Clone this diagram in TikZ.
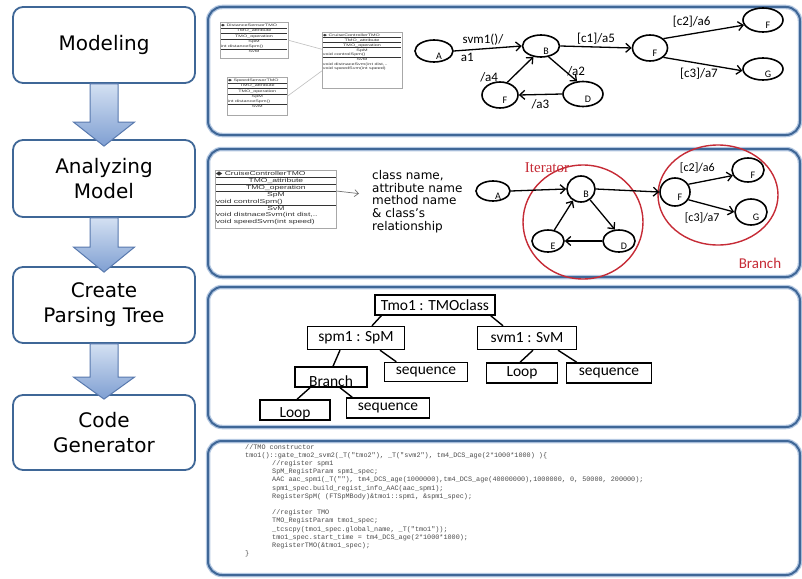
\documentclass[tikz,border=0pt]{standalone}
\usepackage{fontspec}
\usepackage{graphicx}
\setmainfont{DejaVu Sans}
\newfontfamily\calfont{Carlito}
\newfontfamily\arialfont{Liberation Sans}
\newfontfamily\serffont{Liberation Serif}
\setmonofont{Liberation Mono}
\usetikzlibrary{shapes.geometric,arrows.meta}
\definecolor{panelblue}{HTML}{3F6797}
\definecolor{glowblue}{HTML}{B4C8E2}
\definecolor{arrowtop}{HTML}{D3E0F2}
\definecolor{arrowbot}{HTML}{7F9FD2}
\definecolor{arrowline}{HTML}{5879AE}
\definecolor{ringred}{HTML}{C62B36}
\definecolor{umlgray}{HTML}{A8A8A8}
\tikzset{
  stage/.style={draw=panelblue, line width=1.8pt, rounded corners=10pt, fill=white,
    minimum width=182pt, align=center, font=\fontsize{20}{25}\selectfont},
  panel/.style={draw=panelblue, line width=2pt, rounded corners=14pt,
    preaction={draw=glowblue, line width=4.5pt}},
  flow/.style={draw=arrowline, line width=1pt, top color=arrowtop, bottom color=arrowbot},
  state/.style={ellipse, draw, line width=1.6pt, inner sep=0pt},
  tag/.style={font=\calfont\fontsize{10}{10}\selectfont, xshift=5pt, yshift=-5pt},
  edge/.style={-{Straight Barb[length=5pt,width=9pt]}, line width=1.3pt},
  elbl/.style={font=\calfont\fontsize{13}{13}\selectfont, inner sep=1pt},
  elblb/.style={font=\calfont\fontsize{12}{12}\selectfont, inner sep=1pt},
  ring/.style={ellipse, draw=ringred, line width=1.4pt, inner sep=0pt},
  tbox/.style={draw, line width=1.4pt, fill=white, inner sep=0pt,
    font=\calfont\fontsize{15.5}{15.5}\selectfont},
  uml/.style={draw=umlgray, line width=0.5pt, inner sep=0.6pt, fill=white,
    anchor=north west, font=\arialfont, text=black!80},
  umlline/.style={draw=black!25, line width=0.6pt},
}

\begin{document}
\begin{tikzpicture}[x=1pt,y=-1pt]
  \fill[white] (0,0) rectangle (802,578);
  \useasboundingbox (0,0) rectangle (802,578);

  % left column: the four steps
  \node[stage, minimum height=76pt] (model) at (104,45) {Modeling};
  \node[stage, minimum height=77pt] (analyze) at (104,178.5) {Analyzing\\Model};
  \node[stage, minimum height=76pt] (parse) at (104,305) {Create\\Parsing Tree};
  \node[stage, minimum height=75pt] (codegen) at (104,432.5) {Code\\Generator};
  \draw[flow] ([xshift=-14pt]model.south) -- ([xshift=-14pt,yshift=17pt]analyze.north)
    -- ([xshift=-30.5pt,yshift=17pt]analyze.north) -- ([yshift=-7pt]analyze.north)
    -- ([xshift=30.5pt,yshift=17pt]analyze.north) -- ([xshift=14pt,yshift=17pt]analyze.north)
    -- ([xshift=14pt]model.south) -- cycle;
  \draw[flow] ([xshift=-14pt]analyze.south) -- ([xshift=-14pt,yshift=19pt]parse.north)
    -- ([xshift=-30.5pt,yshift=19pt]parse.north) -- ([yshift=-6pt]parse.north)
    -- ([xshift=30.5pt,yshift=19pt]parse.north) -- ([xshift=14pt,yshift=19pt]parse.north)
    -- ([xshift=14pt]analyze.south) -- cycle;
  \draw[flow] ([xshift=-14pt]parse.south) -- ([xshift=-14pt,yshift=17pt]codegen.north)
    -- ([xshift=-30.5pt,yshift=17pt]codegen.north) -- ([yshift=-5pt]codegen.north)
    -- ([xshift=30.5pt,yshift=17pt]codegen.north) -- ([xshift=14pt,yshift=17pt]codegen.north)
    -- ([xshift=14pt]parse.south) -- cycle;

  % right column: panels
  \draw[panel] (208,7) rectangle (800,135);
  \draw[panel] (208,149) rectangle (800,277);
  \draw[panel] (208,287) rectangle (800,427);
  \draw[panel] (208,441) rectangle (800,575);

  % modeling: class boxes
  \node[uml] (dss) at (220,22) {\scalebox{1.6}[1]{\fontsize{3.4}{5}\selectfont\begin{tabular}{@{}p{41.5pt}@{}}
    {\rmfamily ◆} DistanceSensorTMO\\\hline
    \multicolumn{1}{@{}c@{}}{TMO\_attribute}\\\hline
    \multicolumn{1}{@{}c@{}}{TMO\_operation}\\\hline
    \multicolumn{1}{@{}c@{}}{SpM}\\
    int distanceSpm()\\\hline
    \multicolumn{1}{@{}c@{}}{SvM}\\[3pt]
  \end{tabular}}};
  \node[uml] (sss) at (227,77) {\scalebox{1.6}[1]{\fontsize{3.4}{5}\selectfont\begin{tabular}{@{}p{36.7pt}@{}}
    {\rmfamily ◆} SpeedSensorTMO\\\hline
    \multicolumn{1}{@{}c@{}}{TMO\_attribute}\\\hline
    \multicolumn{1}{@{}c@{}}{TMO\_operation}\\\hline
    \multicolumn{1}{@{}c@{}}{SpM}\\
    int distanceSpm()\\\hline
    \multicolumn{1}{@{}c@{}}{SvM}\\[5pt]
  \end{tabular}}};
  \node[uml] (cct) at (322,32) {\scalebox{1.6}[1]{\fontsize{3.4}{4.6}\selectfont\begin{tabular}{@{}p{49pt}@{}}
    {\rmfamily ◆} CruiseControllerTMO\\\hline
    \multicolumn{1}{@{}c@{}}{TMO\_attribute}\\\hline
    \multicolumn{1}{@{}c@{}}{TMO\_operation}\\\hline
    \multicolumn{1}{@{}c@{}}{SpM}\\
    void controlSpm()\\\hline
    \multicolumn{1}{@{}c@{}}{SvM}\\
    void distnaceSvm(int dist,..\\
    void speedSvm(int speed)\\[16pt]
  \end{tabular}}};
  \draw[umlline] (dss.east) -- (cct.165);
  \draw[umlline] (sss.east) -- (cct.195);

  % modeling: state machine
  \node[state, minimum width=38pt, minimum height=22pt, label={[tag]center:A}] (mA) at (434,51) {};
  \node[state, minimum width=37pt, minimum height=22pt, label={[tag]center:B}] (mB) at (541,46) {};
  \node[state, minimum width=35pt, minimum height=26pt, label={[tag]center:F}] (mF) at (650,48) {};
  \node[state, minimum width=40pt, minimum height=24pt, label={[tag]center:F}] (mF2) at (763,20) {};
  \node[state, minimum width=40pt, minimum height=22pt, label={[tag]center:G}] (mG) at (763,69) {};
  \node[state, minimum width=36pt, minimum height=26pt, label={[tag]center:F}] (mE) at (500,95) {};
  \node[state, minimum width=40pt, minimum height=25pt, label={[tag]center:D}] (mD) at (583,94) {};
  \draw[edge] (mA.east) -- (mB.west) node[elbl, pos=.43, above=2pt] {svm1()/}
    node[elbl, pos=.2, below=1pt] {a1};
  \draw[edge] (mB.east) -- (mF.west) node[elbl, midway, above=1pt] {[c1]/a5};
  \draw[edge] (mF.35) -- (mF2.195) node[elbl, pos=.35, above=5pt] {[c2]/a6};
  \draw[edge] (mF.-35) -- (mG.185) node[elbl, pos=.45, below=3pt] {[c3]/a7};
  \draw[edge] (mB.-55) -- (mD.115) node[elbl, pos=.6, right=0pt] {/a2};
  \draw[edge] (mD.west) -- (mE.east) node[elbl, midway, below=3pt] {/a3};
  \draw[edge] (mE.60) -- (mB.235) node[elbl, pos=.2, left=13pt] {/a4};

  % analyzing: class box and notes
  \node[uml] (ccbig) at (215,170) {\scalebox{1.5}[1]{\fontsize{5.7}{6.6}\selectfont\begin{tabular}{@{}p{80pt}@{}}
    {\rmfamily ◆} CruiseControllerTMO\\\hline
    \multicolumn{1}{@{}c@{}}{TMO\_attribute}\\\hline
    \multicolumn{1}{@{}c@{}}{TMO\_operation}\\\hline
    \multicolumn{1}{@{}c@{}}{SpM}\\
    void controlSpm()\\\hline
    \multicolumn{1}{@{}c@{}}{SvM}\\
    void distnaceSvm(int dist,..\\
    void speedSvm(int speed)\\[2pt]
  \end{tabular}}};
  \node[anchor=north west, align=left, inner sep=0pt, font=\fontsize{12}{12.8}\selectfont]
    (notes) at (372,170) {class name,\\attribute name\\method name\\\& class's\\relationship};
  \draw[-{Straight Barb[length=4pt,width=7pt]}, black!55, line width=0.7pt]
    ([yshift=8pt]ccbig.east) -- ([xshift=-13pt,yshift=8pt]notes.west);

  % analyzing: iterator and branch
  \node[ring, minimum width=120pt, minimum height=114pt] (itring) at (583,222) {};
  \node[ring, minimum width=120pt, minimum height=100pt] (brring) at (718,195) {};
  \node[font=\serffont\fontsize{15}{15}\selectfont, text=ringred] (iter) at (547,168) {Iterator};
  \node[font=\calfont\fontsize{15}{15}\selectfont, text=ringred] (branch) at (760,263) {Branch};
  \node[state, fill=white, minimum width=34pt, minimum height=20pt, label={[tag]center:A}] (aA) at (493,191) {};
  \node[state, fill=white, minimum width=28pt, minimum height=26pt, label={[tag]center:B}] (aB) at (581,189) {};
  \node[state, fill=white, minimum width=30pt, minimum height=28pt, label={[tag]center:F}] (aF) at (675,192) {};
  \node[state, fill=white, minimum width=32pt, minimum height=24pt, label={[tag]center:F}] (aF2) at (748,170) {};
  \node[state, fill=white, minimum width=32pt, minimum height=26pt, label={[tag]center:G}] (aG) at (751,212) {};
  \node[state, fill=white, minimum width=32pt, minimum height=22pt, label={[tag]center:E}] (aE) at (548,241) {};
  \node[state, fill=white, minimum width=32pt, minimum height=22pt, label={[tag]center:D}] (aD) at (619,241) {};
  \draw[edge] (aA.east) -- (aB.west);
  \draw[edge] (aB.east) -- (aF.west);
  \draw[edge] (aF.30) -- (aF2.200) node[elblb, pos=.2, above=8pt] {[c2]/a6};
  \draw[edge] (aF.-30) -- (aG.180) node[elblb, pos=.3, below=8pt] {[c3]/a7};
  \draw[edge] (aB.-50) -- (aD.110);
  \draw[edge] (aD.west) -- (aE.east);
  \draw[edge] (aE.60) -- (aB.235);

  % parsing tree
  \node[tbox, minimum width=120pt, minimum height=20pt] (t0) at (435,305) {Tmo1 : TMOclass};
  \node[tbox, minimum width=97pt, minimum height=23pt] (t1) at (356,338) {spm1 : SpM};
  \node[tbox, minimum width=99pt, minimum height=23pt] (t2) at (527,338) {svm1 : SvM};
  \node[tbox, minimum width=72pt, minimum height=20pt, text height=18pt, text depth=0pt] (t3) at (331,377) {Branch};
  \node[tbox, minimum width=83pt, minimum height=19pt] (t4) at (426,372) {sequence};
  \node[tbox, minimum width=71pt, minimum height=20pt] (t5) at (522,373) {Loop};
  \node[tbox, minimum width=85pt, minimum height=20pt] (t6) at (609,373) {sequence};
  \node[tbox, minimum width=70pt, minimum height=20pt, text height=14pt, text depth=0pt] (t7) at (295,410) {Loop};
  \node[tbox, minimum width=83pt, minimum height=20pt] (t8) at (388,408) {sequence};
  \draw[line width=1.4pt] ([xshift=7pt]t0.south west) -- ([xshift=16pt]t1.north);
  \draw[line width=1.4pt] ([xshift=-5pt]t0.south east) -- ([xshift=-24pt]t2.north);
  \draw[line width=1.4pt] ([xshift=-16pt]t1.south) -- ([xshift=2pt]t3.north);
  \draw[line width=1.4pt] ([xshift=24pt]t1.south) -- ([xshift=12.5pt]t4.north west);
  \draw[line width=1.4pt] ([xshift=6pt]t2.south) -- ([xshift=-2pt]t5.north);
  \draw[line width=1.4pt] ([xshift=31pt]t2.south) -- ([xshift=11pt]t6.north west);
  \draw[line width=1.4pt] ([xshift=-21pt]t3.south) -- ([xshift=2pt]t7.north);
  \draw[line width=1.4pt] ([xshift=9pt]t3.south) -- ([xshift=6.5pt]t8.north west);

  % generated code
  \node[anchor=north west, align=left, inner sep=0pt, text=black!70,
    font=\ttfamily\fontsize{6.8}{8.2}\selectfont] (code) at (245,444) {//TMO constructor\\
tmo1()::gate\_tmo2\_svm2(\_T("tmo2"), \_T("svm2"), tm4\_DCS\_age(2*1000*1000) )\{\\
\hspace*{27pt}//register spm1\\
\hspace*{27pt}SpM\_RegistParam spm1\_spec;\\
\hspace*{27pt}AAC aac\_spm1(\_T(""), tm4\_DCS\_age(1000000),tm4\_DCS\_age(40000000),1000000, 0, 50000, 200000);\\
\hspace*{27pt}spm1\_spec.build\_regist\_info\_AAC(aac\_spm1);\\
\hspace*{27pt}RegisterSpM( (FTSpMBody)\&tmo1::spm1, \&spm1\_spec);\\
\mbox{}\\
\hspace*{27pt}//register TMO\\
\hspace*{27pt}TMO\_RegistParam tmo1\_spec;\\
\hspace*{27pt}\_tcscpy(tmo1\_spec.global\_name, \_T("tmo1"));\\
\hspace*{27pt}tmo1\_spec.start\_time = tm4\_DCS\_age(2*1000*1000);\\
\hspace*{27pt}RegisterTMO(\&tmo1\_spec);\\
\}};
\end{tikzpicture}
\end{document}
